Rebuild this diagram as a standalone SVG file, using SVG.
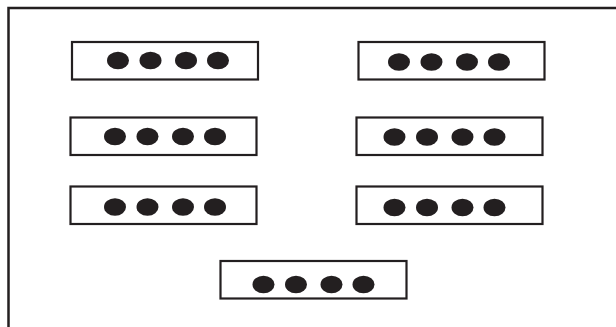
<svg xmlns="http://www.w3.org/2000/svg" width="616" height="327" viewBox="0 0 616 327">
  <style>
    .frame { fill: none; stroke: #231f20; stroke-width: 2.5; }
    .box { fill: #fff; stroke: #231f20; stroke-width: 2.2; }
    .dot { fill: #231f20; }
  </style>
  <defs>
    <!-- row of four dots, origin at the first dot's centre -->
    <g id="dots">
      <ellipse class="dot" cx="0" cy="0" rx="11" ry="8.8"/>
      <ellipse class="dot" cx="32.5" cy="0" rx="11" ry="8.8"/>
      <ellipse class="dot" cx="68" cy="0" rx="11" ry="8.8"/>
      <ellipse class="dot" cx="100" cy="0" rx="11" ry="8.8"/>
    </g>
  </defs>
  <rect width="616" height="327" fill="#fff"/>
  <path class="frame" d="M8.5,330 V8 H620"/>

  <g id="node-1">
    <rect class="box" x="72" y="42" width="186" height="37.5"/>
    <use href="#dots" x="118" y="60.5"/>
  </g>
  <g id="node-2">
    <rect class="box" x="358.5" y="42" width="186" height="37.5"/>
    <use href="#dots" x="399" y="62"/>
  </g>
  <g id="node-3">
    <rect class="box" x="70.5" y="117.5" width="186" height="37.5"/>
    <use href="#dots" x="115" y="136.5"/>
  </g>
  <g id="node-4">
    <rect class="box" x="356.5" y="117.5" width="186" height="37.5"/>
    <use href="#dots" x="394.5" y="137"/>
  </g>
  <g id="node-5">
    <rect class="box" x="70.5" y="186.5" width="186" height="37.5"/>
    <use href="#dots" x="115" y="207"/>
  </g>
  <g id="node-6">
    <rect class="box" x="356.5" y="186.5" width="186" height="37.5"/>
    <use href="#dots" x="394.5" y="207.5"/>
  </g>
  <g id="node-7">
    <rect class="box" x="220.5" y="261" width="186" height="37.5"/>
    <use href="#dots" x="263.5" y="284.5"/>
  </g>
  <g id="connectors"/>
</svg>
